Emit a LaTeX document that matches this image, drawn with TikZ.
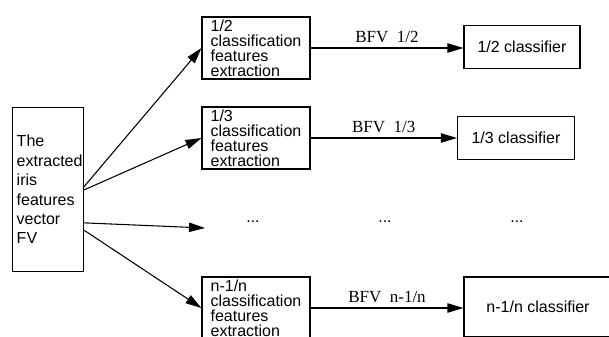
\documentclass[tikz,border=0pt]{standalone}
\usepackage{fontspec}
\setmainfont{Liberation Sans}
\newfontfamily\bfvfont{Liberation Serif}
\usetikzlibrary{arrows.meta}
\tikzset{>={Triangle[length=12pt,width=7pt]}}
\tikzset{%
    featbox/.style={%
        draw, align=left, inner sep=0pt,
        minimum width=81pt, minimum height=46.5pt,
        font=\fontsize{12}{11.25}\selectfont
    },
    clsbox/.style={draw, minimum height=32.25pt, font=\fontsize{12}{14}\selectfont},
    bfv/.style={font=\bfvfont\fontsize{12.75}{15}\selectfont, above},
    dotsnode/.style={font=\fontsize{12}{14}\selectfont}
}

\begin{document}
\begin{tikzpicture}[x=0.75pt,y=-0.75pt,line width=0.8pt]
	\useasboundingbox (0,0) rectangle (609,336);
	\node[draw, align=left, text width=46.6pt, inner xsep=3.3pt, minimum height=123pt, font=\fontsize{12}{14.6}\selectfont](fv) at (47.8,189.5) {The\\extracted\\iris\\features\\vector\\FV};
	\node[featbox](b12) at (256,48) {1/2\\classification\\features\\extraction};
	\node[featbox](b13) at (256,138) {1/3\\classification\\features\\extraction};
	\node[featbox](bn) at (256,308) {n-1/n\\classification\\features\\extraction};
	\node[clsbox, minimum width=87pt](c12) at (522,47) {1/2 classifier};
	\node[clsbox, minimum width=87.75pt](c13) at (516,138) {1/3 classifier};
	\node[clsbox, minimum width=111pt, minimum height=45pt](cn) at (538,307) {n-1/n classifier};
	\node[dotsnode](d1) at (253,222) {...};
	\node[dotsnode](d2) at (385,222) {...};
	\node[dotsnode](d3) at (517,222) {...};
	\coordinate (din) at (205,228);
	\draw[->] ([yshift=1.9pt]fv.east) -- (b12.west);
	\draw[->] ([yshift=-0.4pt]fv.east) -- (b13.west);
	\draw[->] ([yshift=-25pt]fv.east) -- (din);
	\draw[->] ([yshift=-30.4pt]fv.east) -- (bn.west);
	\draw[->] (b12.east) -- (b12.east -| c12.west) node[bfv, midway]{BFV\ \ 1/2};
	\draw[->] (b13.east) -- (b13.east -| c13.west) node[bfv, midway]{BFV\ \ 1/3};
	\draw[->] (bn.east) -- (bn.east -| cn.west) node[bfv, midway]{BFV\ \ n-1/n};
\end{tikzpicture}
\end{document}
